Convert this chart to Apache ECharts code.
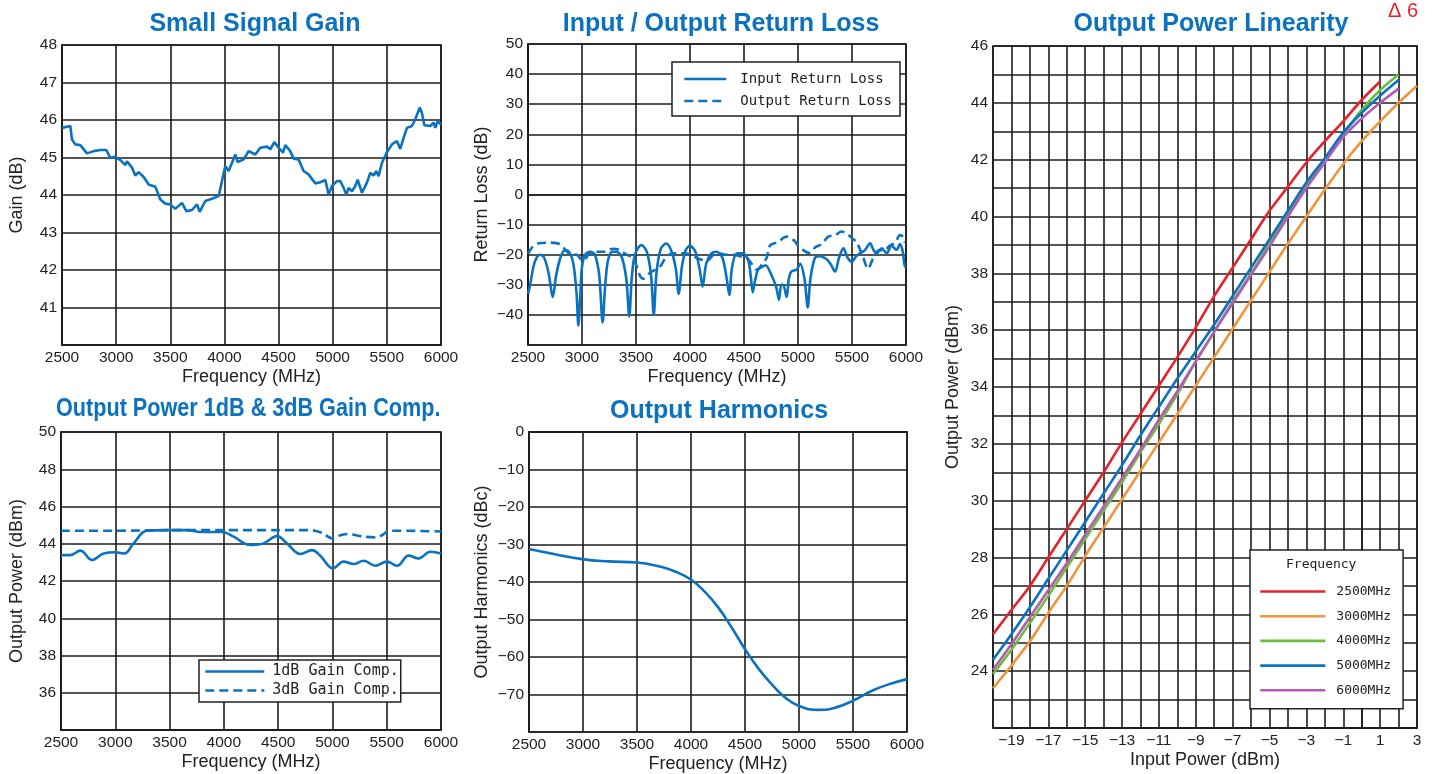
<!DOCTYPE html>
<html>
<head>
<meta charset="utf-8">
<script src="https://cdn.jsdelivr.net/npm/echarts@6/dist/echarts.min.js"></script>
<style>
html,body{margin:0;padding:0;background:#fff;}
#c{width:1435px;height:774px;}
</style>
</head>
<body>
<div id="c"></div>
<script>
// ---------- DATA ----------
const smallSignalGain = [
 [2500,45.79],[2577,45.84],[2592,45.48],[2623,45.35],[2669,45.33],[2731,45.11],[2792,45.17],[2854,45.2],[2909,45.2],
 [2946,44.99],[2992,45.02],[3039,44.93],[3085,44.8],[3100,44.9],[3146,44.73],[3177,44.52],[3208,44.61],[3254,44.48],
 [3300,44.28],[3362,44.22],[3408,43.88],[3454,43.77],[3500,43.75],[3546,43.63],[3608,43.79],[3648,43.57],[3700,43.6],
 [3747,43.75],[3771,43.55],[3824,43.84],[3885,43.9],[3947,43.97],[3977,44.37],[4008,44.77],[4039,44.64],[4070,44.86],
 [4101,45.08],[4122,44.88],[4178,44.95],[4224,45.17],[4285,45.08],[4331,45.26],[4393,45.29],[4424,45.22],[4461,45.41],
 [4501,45.26],[4541,45.13],[4562,45.33],[4608,45.17],[4639,44.97],[4685,44.95],[4731,44.64],[4777,44.55],[4839,44.31],
 [4885,44.34],[4932,44.4],[4962,44.01],[4993,44.24],[5039,44.37],[5070,44.37],[5101,44.19],[5126,44.01],[5147,44.19],
 [5178,44.1],[5209,44.24],[5230,44.41],[5270,44.06],[5316,44.33],[5347,44.59],[5378,44.52],[5403,44.64],[5424,44.5],
 [5455,44.86],[5501,45.14],[5547,45.35],[5593,45.44],[5624,45.23],[5655,45.53],[5686,45.79],[5732,45.84],[5763,46.02],
 [5803,46.33],[5824,46.19],[5846,45.86],[5901,45.84],[5932,45.93],[5947,45.79],[5969,45.97],[6000,45.88]
];
const inputReturnLoss = [
 [2500,-33],[2520,-30],[2550,-24],[2580,-21],[2611,-20],[2650,-21],[2690,-26],[2730,-34],[2760,-27],[2800,-21],
 [2843,-18.5],[2880,-19],[2920,-23],[2950,-33],[2966,-43.5],[2985,-33],[3000,-24],[3030,-20],[3075,-19],[3120,-20],
 [3160,-27],[3191,-42.5],[3215,-30],[3240,-22],[3280,-19],[3320,-19],[3370,-21],[3410,-28],[3438,-40.5],[3460,-28],
 [3490,-20],[3550,-16.8],[3600,-19],[3640,-27],[3664,-40],[3690,-26],[3730,-18],[3780,-16.3],[3830,-19],[3870,-25],
 [3895,-33],[3925,-24],[3960,-18.5],[4000,-17],[4050,-19],[4090,-25],[4117,-30.6],[4150,-23],[4200,-19.5],[4247,-19],
 [4300,-21],[4340,-28],[4364,-33.4],[4390,-24],[4435,-19.5],[4490,-19.5],[4540,-22],[4565,-28],[4581,-32.5],[4600,-29],
 [4630,-25],[4670,-24],[4700,-23.5],[4757,-27],[4800,-31],[4824,-35],[4845,-30],[4862,-30],[4895,-34],[4915,-28],
 [4941,-25.5],[4987,-25],[5020,-23],[5060,-28],[5090,-37.5],[5115,-28],[5157,-21],[5204,-20.5],[5265,-21.5],[5300,-23],
 [5343,-25.6],[5380,-21],[5420,-17.9],[5460,-21],[5497,-22.3],[5540,-20.5],[5574,-19.5],[5620,-18.5],[5667,-16.2],
 [5700,-18.5],[5729,-19.5],[5775,-17.9],[5821,-19.5],[5867,-17],[5913,-18.4],[5944,-16.5],[5970,-19],[5990,-24],[6000,-24]
];
const outputReturnLoss = [
 [2500,-19.8],[2540,-17.5],[2600,-16.2],[2700,-16],[2796,-16.5],[2850,-18.5],[2889,-19.8],[2951,-20],[3010,-22],
 [3074,-19.4],[3150,-19],[3200,-19],[3290,-18],[3350,-18.5],[3414,-20],[3474,-21],[3537,-27],[3568,-28],[3630,-26],
 [3722,-24],[3784,-20.5],[3850,-19.5],[3907,-19.5],[3960,-19.5],[4028,-20.5],[4092,-21.5],[4155,-22],[4220,-20],
 [4275,-19.6],[4330,-20],[4400,-20],[4460,-20.5],[4525,-21],[4570,-23],[4620,-25],[4670,-23],[4710,-21],[4740,-17],
 [4780,-16.2],[4815,-16],[4860,-14.5],[4900,-14],[4930,-14.5],[4970,-15.5],[5000,-17],[5050,-18.5],[5100,-19.4],
 [5130,-19],[5160,-17.5],[5220,-16.5],[5280,-14],[5343,-13.5],[5404,-12.3],[5450,-13],[5500,-14.5],[5545,-16],
 [5605,-21],[5648,-24.7],[5698,-21],[5750,-18.5],[5800,-18.5],[5850,-17],[5900,-16],[5944,-13.5],[5970,-14],[5990,-16]
];
const gainComp1dB = [
 [2500,43.39],[2586,43.39],[2678,43.63],[2785,43.13],[2893,43.48],[3000,43.54],[3083,43.48],[3169,44.02],[3292,44.7],
 [3476,44.73],[3660,44.73],[3783,44.63],[3983,44.63],[4090,44.38],[4244,43.93],[4367,44.02],[4489,44.41],[4581,44.02],
 [4704,43.45],[4812,43.66],[4888,43.36],[5005,42.68],[5103,43.04],[5195,42.91],[5288,43.09],[5395,42.82],[5502,43.04],
 [5595,42.82],[5702,43.36],[5794,43.21],[5902,43.57],[6000,43.48]
];
const gainComp3dB = [
 [2500,44.7],[3000,44.7],[3500,44.73],[4000,44.73],[4500,44.73],[4796,44.73],[4904,44.59],[4996,44.29],[5027,44.38],
 [5134,44.52],[5288,44.38],[5410,44.34],[5472,44.52],[5518,44.7],[5625,44.7],[6000,44.66]
];
const harmonics = [
 [2500,-31.2],[2741,-32.6],[2994,-33.9],[3235,-34.5],[3498,-34.8],[3699,-35.8],[3853,-37.2],[4001,-39.4],[4131,-42.7],
 [4255,-46.9],[4378,-52.2],[4502,-58],[4625,-63.1],[4749,-67.3],[4872,-70.8],[4996,-73],[5181,-74.1],[5336,-73.5],
 [5496,-71.7],[5676,-69],[5830,-67.3],[6000,-65.9]
];
const inputPower = [-20,-19,-18,-17,-16,-15,-14,-13,-12,-11,-10,-9,-8,-7,-6,-5,-4,-3,-2,-1,0,1,2,3];
const pout2500 = [25.3,26.15,27.0,28.0,29.0,30.0,31.0,32.05,33.05,34.05,35.05,36.1,37.2,38.2,39.2,40.2,41.05,41.9,42.65,43.35,44.1,44.75,null,null];
const pout3000 = [23.4,24.2,25.05,26.05,27.0,28.05,29.05,30.05,31.05,32.05,33.05,34.05,35.05,36.05,37.05,38.05,39.05,40.0,40.95,41.85,42.65,43.35,44.0,44.6];
const pout4000 = [23.9,24.75,25.7,26.65,27.65,28.65,29.65,30.65,31.7,32.7,33.75,34.9,35.95,37.0,38.0,39.05,40.1,41.1,42.0,42.9,43.75,44.45,45.0,null];
const pout5000 = [24.4,25.3,26.25,27.25,28.25,29.25,30.25,31.25,32.3,33.3,34.3,35.25,36.2,37.2,38.2,39.2,40.2,41.2,42.05,42.95,43.65,44.25,44.8,null];
const pout6000 = [24.05,24.95,25.9,26.85,27.8,28.8,29.8,30.8,31.8,32.85,33.85,34.9,35.95,36.95,37.95,38.95,40.0,41.0,41.9,42.8,43.45,44.0,44.5,null];
const freqTicks = [2500,3000,3500,4000,4500,5000,5500,6000];

// ---------- STYLE ----------
const BLUE = '#0a72c0';
const NUMFONT = "'Liberation Sans','Roboto',sans-serif";
const SANS = "'Liberation Sans','Roboto',sans-serif";
const MONO = "'DejaVu Sans Mono','Liberation Mono',monospace";
const minus = v => (v < 0 ? '\u2212' + Math.abs(v) : String(v));
const gridLine = {show: true, lineStyle: {color: '#1c1c1c', width: 1.6}};
const axLine = {show: true, lineStyle: {color: '#1c1c1c', width: 1.6}};
const lbl = (extra) => Object.assign({color: '#222', fontSize: 15.5, fontFamily: NUMFONT}, extra || {});
const nameStyle = {color: '#222', fontSize: 18, fontFamily: SANS};

function freqAxis(gi) {
  return {
    type: 'value', gridIndex: gi, min: freqTicks[0], max: freqTicks[freqTicks.length - 1], interval: 500,
    axisLine: axLine, axisTick: {show: false}, splitLine: gridLine,
    axisLabel: lbl({margin: 5, formatter: v => String(v)}),
    name: 'Frequency (MHz)', nameLocation: 'middle', nameGap: 23, nameMoveOverlap: false, nameTextStyle: nameStyle
  };
}
function valAxis(gi, min, max, interval, name, gap, showFn) {
  return {
    type: 'value', gridIndex: gi, min: min, max: max, interval: interval,
    axisLine: axLine, axisTick: {show: false}, splitLine: gridLine,
    axisLabel: lbl({margin: 5, formatter: v => (showFn ? showFn(v) : v !== min) ? minus(v) : ''}),
    name: name, nameLocation: 'middle', nameGap: gap, nameMoveOverlap: false, nameTextStyle: nameStyle
  };
}
function line(name, data, xi, color, extra) {
  return Object.assign({
    name: name, type: 'line', xAxisIndex: xi, yAxisIndex: xi, data: data,
    symbol: 'none', showSymbol: false, animation: false,
    lineStyle: {color: color, width: 2.6}, itemStyle: {color: color}
  }, extra || {});
}
const pairs = arr => inputPower.map((x, i) => [x, arr[i]]).filter(d => d[1] != null);

const titleStyle = {color: BLUE, fontSize: 25, fontWeight: 'bold', fontFamily: SANS};
const legendBase = {
  orient: 'vertical', backgroundColor: '#fff', borderColor: '#222', borderWidth: 1.5, borderRadius: 0,
  selectedMode: false, itemStyle: {opacity: 0, borderWidth: 0}, lineStyle: {width: 2.6}
};

const option = {
  backgroundColor: '#fff',
  animation: false,
  title: [
    {text: 'Small Signal Gain', left: 250, top: 7, textAlign: 'center', textStyle: titleStyle},
    {text: 'Input / Output Return Loss', left: 716, top: 7, textAlign: 'center', textStyle: titleStyle},
    {text: 'Output Harmonics', left: 714, top: 394, textAlign: 'center', textStyle: titleStyle},
    {text: 'Output Power Linearity', left: 1206, top: 7, textAlign: 'center', textStyle: titleStyle}
  ],
  graphic: [
    {type: 'text', x: 56, y: 397, scaleX: 0.865, z: 100,
     style: {x: 0, y: 0, verticalAlign: 'top', text: 'Output Power 1dB & 3dB Gain Comp.', fill: BLUE, font: "bold 25px 'Liberation Sans',sans-serif"}},
    {type: 'text', left: 1388, top: 1, z: 100,
     style: {text: '\u0394 6', fill: '#e8202a', font: "20px 'Liberation Sans',sans-serif"}},
    {type: 'text', left: 1286, top: 558, z: 100,
     style: {text: 'Frequency', fill: '#222', font: "13px 'DejaVu Sans Mono',monospace"}}
  ],
  grid: [
    {left: 62, top: 45, width: 379, height: 300, show: true, borderColor: '#1c1c1c', borderWidth: 1.6},
    {left: 528, top: 44, width: 378, height: 301, show: true, borderColor: '#1c1c1c', borderWidth: 1.6},
    {left: 61, top: 432, width: 380, height: 298, show: true, borderColor: '#1c1c1c', borderWidth: 1.6},
    {left: 529, top: 432, width: 378, height: 301, show: true, borderColor: '#1c1c1c', borderWidth: 1.6},
    {left: 993, top: 46, width: 424, height: 686, show: true, borderColor: '#1c1c1c', borderWidth: 1.6}
  ],
  xAxis: [
    freqAxis(0), freqAxis(1), freqAxis(2), freqAxis(3),
    {
      type: 'value', gridIndex: 4, min: -20, max: 3, interval: 1,
      axisLine: axLine, axisTick: {show: false}, splitLine: gridLine,
      axisLabel: lbl({margin: 5, formatter: v => (Math.abs(v) % 2 === 1 ? minus(v) : '')}),
      name: 'Input Power (dBm)', nameLocation: 'middle', nameGap: 23, nameMoveOverlap: false, nameTextStyle: nameStyle
    }
  ],
  yAxis: [
    valAxis(0, 40, 48, 1, 'Gain (dB)', 36),
    valAxis(1, -50, 50, 10, 'Return Loss (dB)', 37),
    valAxis(2, 34, 50, 2, 'Output Power (dBm)', 35),
    valAxis(3, -80, 0, 10, 'Output Harmonics (dBc)', 38),
    valAxis(4, 22, 46, 1, 'Output Power (dBm)', 31, v => v % 2 === 0 && v !== 22)
  ],
  legend: [
    Object.assign({}, legendBase, {
      data: ['Input Return Loss', 'Output Return Loss'], left: 672, top: 62,
      padding: [10, 8, 8, 11], itemWidth: 42, itemHeight: 14, itemGap: 8,
      textStyle: {fontFamily: MONO, fontSize: 14, color: '#222', padding: [0, 0, 0, 9]}
    }),
    Object.assign({}, legendBase, {
      data: ['1dB Gain Comp.', '3dB Gain Comp.'], left: 199, top: 660,
      padding: [4, 2, 4, 5], itemWidth: 59, itemHeight: 14, itemGap: 4,
      textStyle: {fontFamily: MONO, fontSize: 15, color: '#222', padding: [0, 0, 0, 3]}
    }),
    Object.assign({}, legendBase, {
      data: ['2500MHz', '3000MHz', '4000MHz', '5000MHz', '6000MHz'], left: 1250, top: 550,
      padding: [35, 12, 12, 9], itemWidth: 65, itemHeight: 14, itemGap: 11.7,
      textStyle: {fontFamily: MONO, fontSize: 13, color: '#222', padding: [0, 0, 0, 6]}
    })
  ],
  series: [
    line('Small Signal Gain', smallSignalGain, 0, BLUE),
    line('Input Return Loss', inputReturnLoss, 1, BLUE, {smooth: 0.3}),
    line('Output Return Loss', outputReturnLoss, 1, BLUE, {smooth: 0.3, lineStyle: {color: BLUE, width: 2.6, type: [9, 5]}}),
    line('1dB Gain Comp.', gainComp1dB, 2, BLUE, {smooth: 0.4}),
    line('3dB Gain Comp.', gainComp3dB, 2, BLUE, {smooth: 0.3, lineStyle: {color: BLUE, width: 2.6, type: [9, 5]}}),
    line('Output Harmonics', harmonics, 3, BLUE, {smooth: 0.5}),
    line('2500MHz', pairs(pout2500), 4, '#e8202a', {smooth: 0.3}),
    line('3000MHz', pairs(pout3000), 4, '#f0953c', {smooth: 0.3}),
    line('4000MHz', pairs(pout4000), 4, '#6cbd3a', {smooth: 0.3}),
    line('5000MHz', pairs(pout5000), 4, '#0a72c2', {smooth: 0.3}),
    line('6000MHz', pairs(pout6000), 4, '#b35cb5', {smooth: 0.3})
  ]
};
const chart = echarts.init(document.getElementById('c'), null, {renderer: 'canvas'});
chart.setOption(option);
</script>
</body>
</html>
